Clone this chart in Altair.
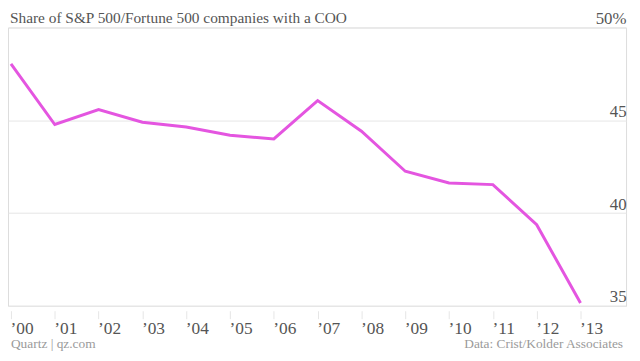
import altair as alt
import pandas as pd

years = [2000, 2001, 2002, 2003, 2004, 2005, 2006, 2007, 2008, 2009, 2010, 2011, 2012, 2013]
share = [48.04, 44.77, 45.58, 44.89, 44.64, 44.19, 43.99, 46.06, 44.41, 42.25, 41.62, 41.53, 39.37, 35.15]
y_ticks = [35, 40, 45, 50]
title_text = "Share of S&P 500/Fortune 500 companies with a COO"
left_note = "Quartz | qz.com"
right_note = "Data: Crist/Kolder Associates"

df = pd.DataFrame({"year": years, "share": share})
FONT = "Liberation Serif"

x_scale = alt.Scale(domain=[1999.932, 2014.04], nice=False, zero=False)
y_scale = alt.Scale(domain=[35, 50], nice=False, zero=False)

line = alt.Chart(df).mark_line(color="#e455e0", strokeWidth=3).encode(
    x=alt.X("year:Q", scale=x_scale,
            axis=alt.Axis(values=years, title=None, orient="bottom", domain=False,
                          grid=False, offset=5, tickSize=8, tickColor="#e6e6e6",
                          labelAlign="left", labelOffset=-1, labelPadding=1,
                          labelBaseline="top", labelFontSize=17.5, labelColor="#555555",
                          labelFont=FONT,
                          labelExpr="'\u2019' + substring(toString(datum.value), 2, 4)")),
    y=alt.Y("share:Q", scale=y_scale,
            axis=alt.Axis(values=y_ticks, title=None, orient="right", domain=False,
                          ticks=False, grid=True, gridColor="#e6e6e6", gridWidth=1,
                          labelAlign="right", labelBaseline="alphabetic", labelOffset=-4,
                          labelPadding=0, labelFontSize=17, labelColor="#555555",
                          labelFont=FONT,
                          labelExpr="datum.value == 50 ? '50%' : datum.label")),
)

left = alt.Chart(pd.DataFrame({"t": [left_note]})).mark_text(
    align="left", baseline="alphabetic", font=FONT, fontSize=13.5, color="#9a9a9a"
).encode(text="t:N", x=alt.value(3), y=alt.value(324))
right = alt.Chart(pd.DataFrame({"t": [right_note]})).mark_text(
    align="right", baseline="alphabetic", font=FONT, fontSize=13.5, color="#9a9a9a"
).encode(text="t:N", x=alt.value(621), y=alt.value(324))
ttl = alt.Chart(pd.DataFrame({"t": [title_text]})).mark_text(
    align="left", baseline="alphabetic", font=FONT, fontSize=15.5, color="#555555"
).encode(text="t:N", x=alt.value(2), y=alt.value(-5))

chart = alt.layer(line, left, right, ttl).properties(
    width=624, height=281,
    autosize=alt.AutoSizeParams(type="none"),
    padding={"left": 0, "top": 18, "right": 6, "bottom": 47},
).configure_view(stroke=None).configure(background="white")

chart.save("out.html", embed_options={"renderer": "svg", "actions": False})
